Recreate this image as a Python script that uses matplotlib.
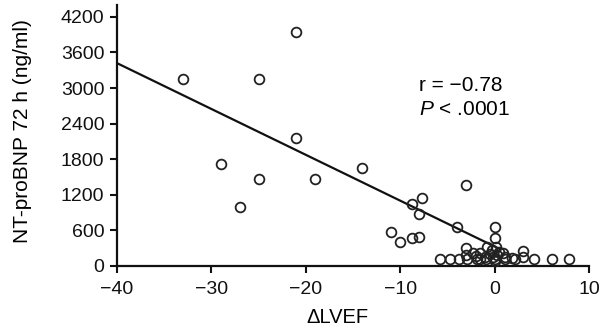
import matplotlib.pyplot as plt

plt.rcParams['font.family'] = ['Liberation Sans', 'DejaVu Sans']
plt.rcParams['mathtext.fontset'] = 'custom'
plt.rcParams['mathtext.it'] = 'Liberation Sans:italic'
plt.rcParams['mathtext.rm'] = 'Liberation Sans'

# scatter points (delta LVEF, NT-proBNP at 72 h)
dlvef = [-33, -25, -21, -21, -29, -25, -19, -14, -27,
         -3, -7.7, -8.8, -8, -4, 0, 0, -11, -10, -8.8, -8,
         -5.8, -4.7, -3.8, -2.9, -1.9, -0.9, 0, 1.1, 2.2, 3, 4.2, 6.1, 7.9,
         3, -3, -2.3, -1.5, -0.8, -0.3, 0.5, 0.9, 1.1, 1.8, -3, -1.5, -0.2,
         0, -0.5, 0.3, -1, 0.2, -2]
ntprobnp = [3150, 3150, 3950, 2150, 1720, 1470, 1470, 1650, 1000,
            1370, 1150, 1050, 870, 650, 650, 470, 580, 400, 470, 490,
            110, 110, 110, 110, 110, 110, 110, 110, 110, 150, 110, 110, 110,
            260, 300, 220, 220, 320, 270, 240, 220, 150, 130, 180, 120, 150,
            80, 200, 180, 160, 320, 170]

# regression line end points
fit_x = [-40, 0.5]
fit_y = [3420, 290]

xticks = [-40, -30, -20, -10, 0, 10]
xticklabels = ['\u221240', '\u221230', '\u221220', '\u221210', '0', '10']
yticks = [0, 600, 1200, 1800, 2400, 3000, 3600, 4200]

fig = plt.figure(figsize=(6.02, 3.31), dpi=100)
ax = fig.add_axes([117 / 602, 1 - 266 / 331, 472 / 602, 261 / 331])

ax.plot(fit_x, fit_y, color='#111111', lw=1.6, zorder=2)
ax.plot(dlvef, ntprobnp, 'o', ms=7, mfc='none', mec='#222222', mew=1.3,
        clip_on=False, zorder=3)

ax.set_xlim(-40, 10)
ax.set_ylim(0, 4400)
ax.set_xticks(xticks)
ax.set_xticklabels(xticklabels)
ax.set_yticks(yticks)
ax.tick_params(labelsize=14, length=5, width=1.5, direction='out',
               colors='#111111')
ax.tick_params(axis='x', pad=6)
ax.tick_params(axis='y', pad=4)
for s in ['top', 'right']:
    ax.spines[s].set_visible(False)
for s in ['left', 'bottom']:
    ax.spines[s].set_linewidth(1.6)
    ax.spines[s].set_color('#111111')

ax.set_xlabel('\u0394LVEF', fontsize=14.5)
ax.set_ylabel('NT-proBNP 72 h (ng/ml)', fontsize=15)
ax.xaxis.set_label_coords(0.466, -0.161)
ax.yaxis.set_label_coords(-0.18, 0.517)

ax.text(-8.0, 2950, 'r = \u22120.78', fontsize=15, va='baseline')
ax.text(-8.0, 2545, r'$\it{P}$ < .0001', fontsize=15, va='baseline')

fig.savefig('out.png', dpi=100)
